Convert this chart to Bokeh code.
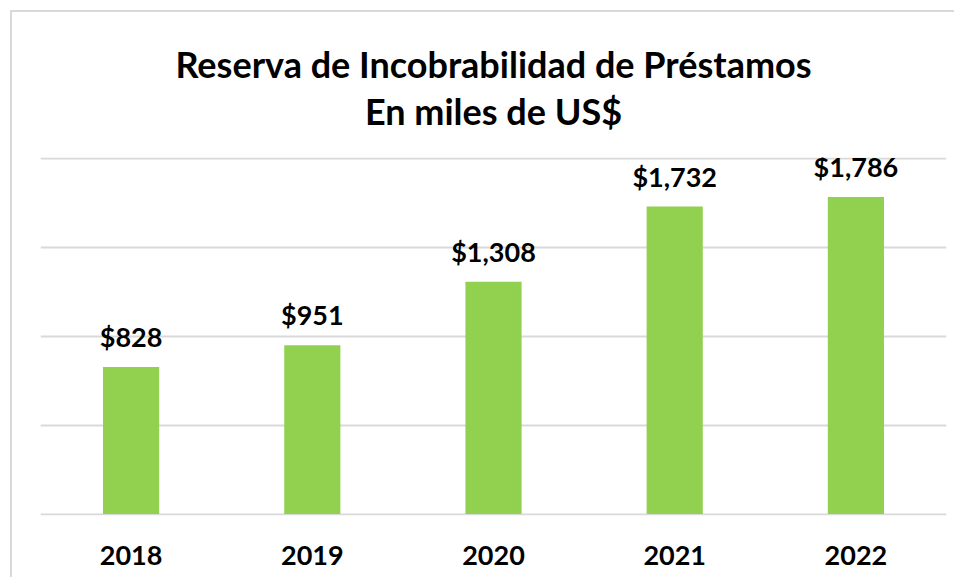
from bokeh.plotting import figure
from bokeh.models import ColumnDataSource, LabelSet, FactorRange, Range1d, SingleIntervalTicker
from bokeh.core.properties import value
from bokeh.embed import file_html
from bokeh.resources import INLINE

years = ["2018", "2019", "2020", "2021", "2022"]
values = [828, 951, 1308, 1732, 1786]
labels = ["$828", "$951", "$1,308", "$1,732", "$1,786"]
title_line1 = "Reserva de Incobrabilidad de Préstamos"
title_line2 = "En miles de US$"

FONT = "Lato"

src = ColumnDataSource(dict(x=years, top=values, label=labels))

p = figure(x_range=FactorRange(*years, range_padding=0), y_range=Range1d(-8, 2008),
           width=944, height=577, output_backend="svg", toolbar_location=None,
           min_border_left=30, min_border_right=8, min_border_bottom=62, min_border_top=157)

p.title.text = title_line1 + "\n" + title_line2
p.title.text_font = FONT
p.title.text_font_size = "36px"
p.title.text_font_style = "bold"
p.title.align = "center"
p.title.text_align = "center"
p.title.text_line_height = 1.07
p.title.text_color = "#000000"
p.title.standoff = 49

p.vbar(x="x", top="top", width=0.31, source=src, color="#92D050", line_color=None)

p.add_layout(LabelSet(x="x", y="top", text="label", source=src, y_offset=20,
                      text_align="center", text_baseline="alphabetic",
                      text_font=value(FONT), text_font_size=value("27px"),
                      text_font_style="bold", text_color="#000000"))

p.yaxis.visible = False
p.xaxis.axis_line_color = None
p.xaxis.major_tick_line_color = None
p.xaxis.minor_tick_line_color = None
p.xaxis.major_label_text_font = FONT
p.xaxis.major_label_text_font_size = "27px"
p.xaxis.major_label_text_font_style = "bold"
p.xaxis.major_label_text_color = "#000000"
p.xaxis.major_label_standoff = 24
p.xgrid.grid_line_color = None
p.ygrid.ticker = SingleIntervalTicker(interval=500)
p.ygrid.grid_line_color = "#d9d9d9"
p.ygrid.grid_line_width = 2
p.outline_line_color = None
p.border_fill_color = None
p.background_fill_color = "#ffffff"
p.styles = {
    "margin-left": "10px",
    "background": "linear-gradient(#d9d9d9, #d9d9d9) 0px 10px / 100% 2px no-repeat, "
                  "linear-gradient(#d9d9d9, #d9d9d9) 0px 10px / 2px 100% no-repeat, #ffffff",
}

open("out.html", "w").write(file_html(p, INLINE))
